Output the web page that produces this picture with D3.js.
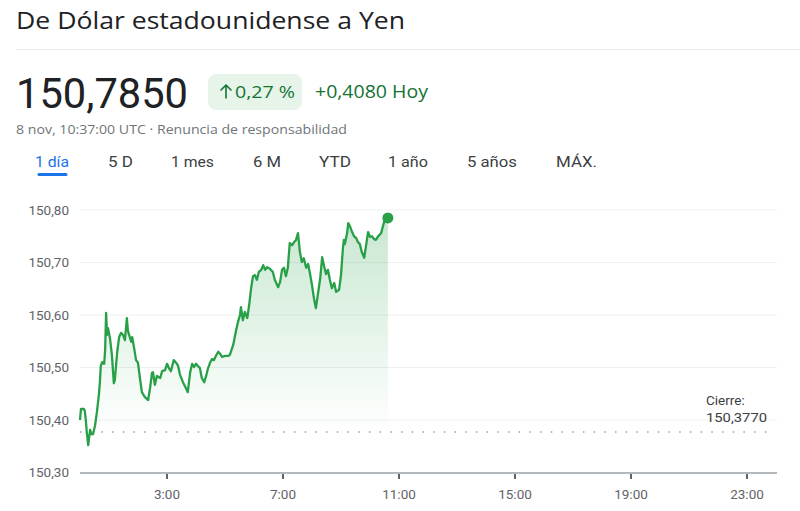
<!DOCTYPE html>
<html><head><meta charset="utf-8">
<script src="https://cdn.jsdelivr.net/npm/d3@7"></script>
<style>
html,body{margin:0;padding:0;background:#fff;}
svg{display:block;font-family:Roboto,Arial,sans-serif;}
</style></head>
<body>
<svg id="c" width="800" height="511"></svg>
<script>
// ---- data ----
const title = "De Dólar estadounidense a Yen";
const price = "150,7850";
const changePct = "0,27 %";
const changeAbs = "+0,4080 Hoy";
const timestamp = "8 nov, 10:37:00 UTC · Renuncia de responsabilidad";
const tabs = ["1 día", "5 D", "1 mes", "6 M", "YTD", "1 año", "5 años", "MÁX."];
const yTicks = [150.30, 150.40, 150.50, 150.60, 150.70, 150.80];
const xTickHours = [3, 7, 11, 15, 19, 23];
const closeValue = 150.377;
const closeLabel = ["Cierre:", "150,3770"];
const times = ["0:00","0:02","0:08","0:10","0:12","0:14","0:17","0:19","0:21","0:23","0:27","0:31","0:35","0:39","0:41","0:43","0:46","0:50","0:52","0:54","0:56","0:58","1:02","1:06","1:10","1:12","1:17","1:21","1:25","1:29","1:33","1:37","1:39","1:41","1:46","1:48","1:52","1:56","2:00","2:04","2:08","2:14","2:21","2:25","2:29","2:31","2:35","2:39","2:46","2:50","2:56","3:00","3:04","3:08","3:14","3:19","3:23","3:27","3:33","3:39","3:43","3:48","3:52","3:56","4:00","4:04","4:08","4:12","4:17","4:21","4:25","4:29","4:33","4:37","4:41","4:46","4:50","4:54","5:00","5:06","5:10","5:17","5:23","5:27","5:31","5:33","5:37","5:41","5:46","5:50","5:54","5:58","6:02","6:06","6:10","6:15","6:19","6:23","6:27","6:33","6:39","6:43","6:50","6:54","6:58","7:02","7:06","7:10","7:14","7:19","7:23","7:27","7:31","7:35","7:39","7:43","7:48","7:52","7:56","8:00","8:04","8:08","8:12","8:17","8:21","8:25","8:29","8:33","8:37","8:41","8:46","8:50","8:56","9:00","9:04","9:06","9:08","9:13","9:15","9:19","9:23","9:27","9:31","9:35","9:39","9:43","9:48","9:52","9:56","10:00","10:04","10:08","10:12","10:17","10:23","10:27","10:31","10:37"];
const values = [150.400,150.421,150.421,150.417,150.400,150.377,150.352,150.368,150.381,150.373,150.373,150.389,150.415,150.448,150.470,150.503,150.510,150.507,150.533,150.604,150.562,150.575,150.556,150.524,150.470,150.476,150.530,150.558,150.566,150.562,150.552,150.594,150.571,150.564,150.549,150.558,150.537,150.514,150.509,150.480,150.453,150.444,150.438,150.461,150.490,150.491,150.467,150.484,150.480,150.493,150.495,150.507,150.499,150.493,150.514,150.509,150.503,150.486,150.472,150.461,150.453,150.491,150.507,150.501,150.507,150.503,150.499,150.480,150.472,150.484,150.499,150.509,150.516,150.514,150.522,150.530,150.526,150.520,150.522,150.522,150.524,150.543,150.571,150.587,150.600,150.615,150.590,150.606,150.594,150.619,150.651,150.674,150.676,150.667,150.682,150.686,150.695,150.686,150.691,150.688,150.682,150.667,150.653,150.663,150.686,150.690,150.674,150.690,150.737,150.733,150.739,150.743,150.756,150.720,150.701,150.708,150.690,150.697,150.678,150.657,150.632,150.613,150.638,150.670,150.710,150.693,150.678,150.686,150.667,150.651,150.661,150.644,150.648,150.676,150.728,150.743,150.735,150.758,150.775,150.768,150.758,150.750,150.747,150.739,150.735,150.720,150.709,150.733,150.758,150.749,150.750,150.745,150.743,150.750,150.756,150.770,150.783,150.785];

// ---- drawing ----
const svg = d3.select("#c");
const toH = s => { const [h,m] = s.split(":").map(Number); return h + m/60; };
const data = times.map((t,i) => ({h: toH(t), v: values[i]}));
const fmt = v => d3.format(".2f")(v).replace(".", ",");
const green = "#27a048";

const x = d3.scaleLinear().domain([0, 24]).range([80, 776]);
const y = d3.scaleLinear().domain([150.30, 150.80]).range([472.5, 210]);

// header
svg.append("text").attr("x", 16).attr("y", 29).attr("font-size", 23)
  .attr("font-family", "'Open Sans',Roboto,sans-serif").attr("fill", "#202124")
  .attr("textLength", 389).attr("lengthAdjust", "spacingAndGlyphs").text(title);
svg.append("line").attr("x1", 16).attr("x2", 800).attr("y1", 49.5).attr("y2", 49.5).attr("stroke", "#e8eaed");
svg.append("text").attr("x", 16).attr("y", 108).attr("font-size", 42).attr("fill", "#202124")
  .attr("textLength", 172).attr("lengthAdjust", "spacingAndGlyphs").text(price);
svg.append("rect").attr("x", 208).attr("y", 74).attr("width", 94).attr("height", 36).attr("rx", 8).attr("fill", "#e6f4ea");
// up arrow glyph
const ar = svg.append("g").attr("stroke", "#137333").attr("stroke-width", 1.6).attr("fill", "none")
  .attr("stroke-linecap", "round").attr("stroke-linejoin", "round");
ar.append("path").attr("d", "M226,98 V85 M221,90 L226,85 L231,90");
svg.append("text").attr("x", 235).attr("y", 98).attr("font-size", 16.5)
  .attr("font-family", "'Open Sans',Roboto,sans-serif").attr("fill", "#137333")
  .attr("textLength", 60).attr("lengthAdjust", "spacingAndGlyphs").text(changePct);
svg.append("text").attr("x", 315).attr("y", 98).attr("font-size", 17.5)
  .attr("font-family", "'Open Sans',Roboto,sans-serif").attr("fill", "#137333")
  .attr("textLength", 113).attr("lengthAdjust", "spacingAndGlyphs").text(changeAbs);
svg.append("text").attr("x", 16).attr("y", 134).attr("font-size", 13)
  .attr("font-family", "'Open Sans',Roboto,sans-serif").attr("fill", "#70757a")
  .attr("textLength", 331).attr("lengthAdjust", "spacingAndGlyphs").text(timestamp);

// tabs
const tabStart = [35, 108, 171, 253, 319, 388, 467, 556];
const tabW = [34, 25, 43, 28, 32, 40, 50, 41];
tabs.forEach((t, i) => {
  svg.append("text").attr("x", tabStart[i]).attr("y", 167)
    .attr("font-size", 15.5).attr("fill", i === 0 ? "#1a73e8" : "#3c4043")
    .attr("textLength", tabW[i]).attr("lengthAdjust", "spacingAndGlyphs").text(t);
});
svg.append("line").attr("x1", 39).attr("x2", 66).attr("y1", 174.5).attr("y2", 174.5)
  .attr("stroke", "#1a73e8").attr("stroke-width", 3).attr("stroke-linecap", "round");

// gridlines
const g = svg.append("g");
g.selectAll("line.grid").data(yTicks.filter(v => v > 150.3)).join("line")
  .attr("x1", 80).attr("x2", 777).attr("y1", d => y(d)).attr("y2", d => y(d))
  .attr("stroke", "#eeeff0").attr("stroke-width", 1);
g.selectAll("text.yl").data(yTicks).join("text")
  .attr("x", 69).attr("y", d => y(d) + 4.5).attr("text-anchor", "end")
  .attr("font-size", 13.5).attr("fill", "#5f6368").text(fmt);

// area gradient
const defs = svg.append("defs");
const grad = defs.append("linearGradient").attr("id", "ag").attr("x1", 0).attr("x2", 0)
  .attr("gradientUnits", "userSpaceOnUse").attr("y1", y(150.80)).attr("y2", y(closeValue));
grad.append("stop").attr("offset", 0).attr("stop-color", "#34a853").attr("stop-opacity", 0.28);
grad.append("stop").attr("offset", 1).attr("stop-color", "#34a853").attr("stop-opacity", 0.0);

svg.append("path").datum(data)
  .attr("d", d3.area().x(d => x(d.h)).y0(y(closeValue)).y1(d => y(d.v)))
  .attr("fill", "url(#ag)");

// close dotted line
svg.append("line").attr("x1", 80).attr("x2", 768).attr("y1", y(closeValue)).attr("y2", y(closeValue))
  .attr("stroke", "#9aa0a6").attr("stroke-width", 1.5).attr("stroke-dasharray", "1.5,9.2");
svg.append("text").attr("x", 706).attr("y", 405).attr("font-size", 13.5).attr("fill", "#3c4043").text(closeLabel[0]);
svg.append("text").attr("x", 706).attr("y", 422).attr("font-size", 13.5).attr("fill", "#3c4043")
  .attr("textLength", 61).attr("lengthAdjust", "spacingAndGlyphs").text(closeLabel[1]);

// line
svg.append("path").datum(data)
  .attr("d", d3.line().x(d => x(d.h)).y(d => y(d.v)))
  .attr("fill", "none").attr("stroke", green).attr("stroke-width", 2.3).attr("stroke-linejoin", "round");
const last = data[data.length - 1];
svg.append("circle").attr("cx", x(last.h)).attr("cy", y(last.v)).attr("r", 5.5).attr("fill", green);

// x axis
svg.append("line").attr("x1", 80).attr("x2", 777).attr("y1", 473).attr("y2", 473).attr("stroke", "#9aa0a6").attr("stroke-width", 1.5);
const xt = svg.append("g");
xt.selectAll("line").data(xTickHours).join("line")
  .attr("x1", d => x(d)).attr("x2", d => x(d)).attr("y1", 474).attr("y2", 479)
  .attr("stroke", "#5f6368").attr("stroke-width", 2);
xt.selectAll("text").data(xTickHours).join("text")
  .attr("x", d => x(d)).attr("y", 499).attr("text-anchor", "middle")
  .attr("font-size", 13.5).attr("fill", "#5f6368").text(d => d + ":00");
</script>
</body></html>
